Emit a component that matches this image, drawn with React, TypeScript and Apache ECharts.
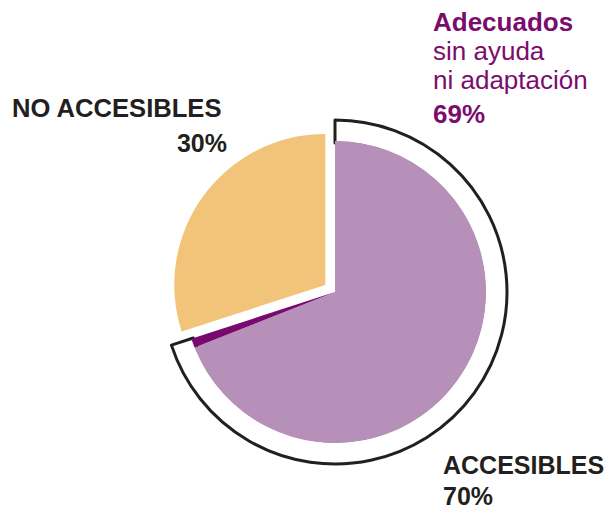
import React, { useEffect, useRef } from "react";
import * as echarts from "echarts";

const categories = ["Adecuados sin ayuda ni adaptación", "Adecuados con ayuda", "NO ACCESIBLES"];
const values = [69, 1, 30];
const colors = ["#B690B9", "#780A6F", "#F1C479"];
const groupNames = ["ACCESIBLES", "NO ACCESIBLES"];
const groupValues = [70, 30];
const highlightLines = ["Adecuados", "sin ayuda", "ni adaptación"];

export default function App() {
  const ref = useRef<HTMLDivElement>(null);
  useEffect(() => {
    if (!ref.current) return;
    const chart = echarts.init(ref.current, undefined, { renderer: "svg" });
    const font = "'Liberation Sans', Arial, Helvetica, sans-serif";
    const purple = "#7B0C6E";
    const dark = "#231F20";
    chart.setOption({
      animation: false,
      backgroundColor: "#ffffff",
      series: [
        {
          type: "pie",
          z: 1,
          center: [335, 292],
          radius: [149, 172],
          startAngle: 90,
          clockwise: true,
          silent: true,
          label: { show: false },
          labelLine: { show: false },
          emphasis: { disabled: true },
          data: [
            {
              name: groupNames[0],
              value: groupValues[0],
              itemStyle: { color: "#ffffff", borderColor: dark, borderWidth: 3 },
            },
            {
              name: groupNames[1],
              value: groupValues[1],
              itemStyle: { color: "rgba(0,0,0,0)", borderWidth: 0 },
            },
          ],
        },
        {
          type: "pie",
          z: 2,
          center: [335, 292],
          radius: [0, 151],
          startAngle: 90,
          clockwise: true,
          silent: true,
          selectedMode: "single",
          selectedOffset: 12,
          label: { show: false },
          labelLine: { show: false },
          emphasis: { disabled: true },
          data: categories.map((c, i) => ({
            name: c,
            value: values[i],
            selected: i === 2,
            itemStyle: { color: colors[i], borderWidth: 0 },
            select: { itemStyle: { color: colors[i], borderWidth: 0 } },
          })),
        },
      ],
      graphic: [
        { type: "text", x: 433, y: 22.2, style: { text: highlightLines[0], font: `bold 26px ${font}`, fill: purple, textVerticalAlign: "middle" } },
        { type: "text", x: 433, y: 50.5, style: { text: highlightLines[1], font: `26px ${font}`, fill: purple, textVerticalAlign: "middle" } },
        { type: "text", x: 433, y: 80.2, style: { text: highlightLines[2], font: `26px ${font}`, fill: purple, textVerticalAlign: "middle" } },
        { type: "text", x: 433, y: 114.2, style: { text: `${values[0]}%`, font: `bold 26px ${font}`, fill: purple, textVerticalAlign: "middle" } },
        { type: "text", x: 12, y: 107.5, style: { text: groupNames[1], font: `bold 25.6px ${font}`, fill: dark, textVerticalAlign: "middle" } },
        { type: "text", x: 227, y: 142.5, style: { text: `${groupValues[1]}%`, font: `bold 25px ${font}`, fill: dark, textVerticalAlign: "middle", textAlign: "right" } },
        { type: "text", x: 443, y: 464.5, style: { text: groupNames[0], font: `bold 25px ${font}`, fill: dark, textVerticalAlign: "middle" } },
        { type: "text", x: 443, y: 495.5, style: { text: `${groupValues[0]}%`, font: `bold 25px ${font}`, fill: dark, textVerticalAlign: "middle" } },
      ],
    });
    return () => chart.dispose();
  }, []);
  return (
    <div
      ref={ref}
      style={{ position: "fixed", left: 0, top: 0, width: 614, height: 509 }}
    />
  );
}
